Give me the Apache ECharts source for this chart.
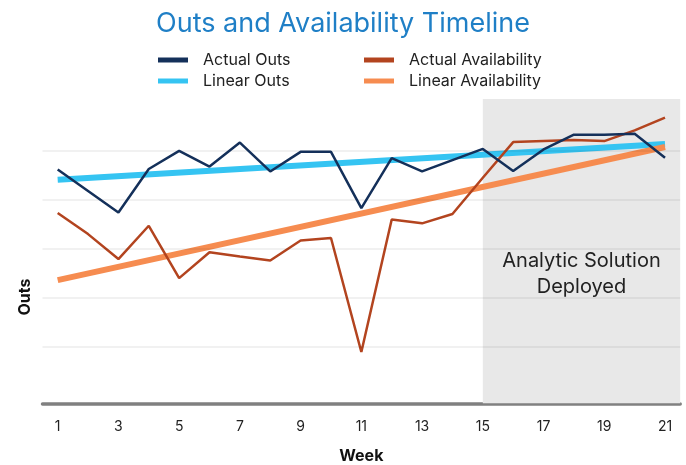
<!DOCTYPE html>
<html><head><meta charset="utf-8">
<script src="https://cdn.jsdelivr.net/npm/echarts@6/dist/echarts.min.js"></script>
<style>html,body{margin:0;padding:0;background:#fff}#c{width:686px;height:465px}</style>
</head><body><div id="c"></div>
<script>
const weeks = [1,2,3,4,5,6,7,8,9,10,11,12,13,14,15,16,17,18,19,20,21];
const actualOuts = [46.2,41.8,37.4,46.3,50.0,46.8,51.7,45.8,49.8,49.8,38.3,48.5,45.8,48.1,50.4,45.9,50.3,53.3,53.3,53.5,48.6];
const actualAvailability = [37.3,33.0,27.9,34.7,24.0,29.3,28.4,27.6,31.7,32.2,8.9,36.0,35.2,37.1,44.5,51.8,52.0,52.2,52.0,54.2,56.8];
const linearWeeks = [1,21];
const linearOuts = [44.1,51.4];
const linearAvailability = [23.6,50.8];
const xTickLabels = [1,3,5,7,9,11,13,15,17,19,21];
const gridValues = [10,20,30,40,50];
const deployStartWeek = 15;
const yMin = -1.57, yMax = 60.6;

const F = 'Inter, "Noto Sans", sans-serif';
const pairs = (xs, ys) => xs.map((x,i)=>[x, ys[i]]);
const chart = echarts.init(document.getElementById('c'), null, {renderer:'canvas'});
chart.setOption({
  animation:false,
  title:{text:'Outs and Availability Timeline', left:'center', top:5,
    textStyle:{color:'#1f7fc6', fontSize:27, fontWeight:'normal', fontFamily:F}},
  legend:[
    {left:153, top:47, orient:'vertical', icon:'rect', itemWidth:30, itemHeight:5, itemGap:5,
     data:['Actual Outs','Linear Outs'],
     textStyle:{fontSize:16, color:'#222', fontFamily:F, padding:[0,0,0,10]}},
    {left:359, top:47, orient:'vertical', icon:'rect', itemWidth:30, itemHeight:5, itemGap:5,
     data:['Actual Availability','Linear Availability'],
     textStyle:{fontSize:16, color:'#222', fontFamily:F, padding:[0,0,0,10]}}
  ],
  grid:{left:42.5, right:5.8, top:99, bottom:61.7, outerBoundsMode:'none', containLabel:false},
  xAxis:{type:'value', min:0.5, max:21.5,
    axisLine:{show:true, onZero:false, lineStyle:{color:'#808080', width:3.5}},
    axisTick:{show:false}, splitLine:{show:false},
    axisLabel:{customValues:xTickLabels, fontSize:14, color:'#222', margin:16, fontFamily:F},
    name:'Week', nameLocation:'middle', nameGap:45,
    nameTextStyle:{fontSize:16, fontWeight:'bold', color:'#111', fontFamily:F}},
  yAxis:{type:'value', min:yMin, max:yMax,
    axisLine:{show:false}, axisTick:{show:false}, axisLabel:{show:false}, splitLine:{show:false}},
  graphic:[
    {type:'text', x:581.5, y:274, z:10,
     style:{text:'Analytic Solution\nDeployed', fill:'#222', font:'20px ' + F,
       textAlign:'center', textVerticalAlign:'middle', lineHeight:26}},
    {type:'text', x:25, y:297, rotation:Math.PI/2, z:10,
     style:{text:'Outs', fill:'#111', font:'bold 16px ' + F,
       textAlign:'center', textVerticalAlign:'middle'}}
  ],
  series:[
    {name:'bg', type:'line', data:[], z:1, silent:true,
     markArea:{silent:true, itemStyle:{color:'#e8e8e8'},
       data:[[{xAxis:deployStartWeek},{xAxis:'max'}]]}},
    {name:'grid', type:'line', data:[], z:2, silent:true,
     markLine:{silent:true, symbol:'none', label:{show:false},
       lineStyle:{color:'rgba(0,0,0,0.075)', width:1.5, type:'solid'},
       data:gridValues.map(v=>({yAxis:v}))}},
    {name:'Linear Outs', type:'line', z:3, color:'#35c4f2', symbol:'none',
     lineStyle:{width:6, color:'#35c4f2'}, data:pairs(linearWeeks, linearOuts)},
    {name:'Linear Availability', type:'line', z:3, color:'#f68c50', symbol:'none',
     lineStyle:{width:6, color:'#f68c50'}, data:pairs(linearWeeks, linearAvailability)},
    {name:'Actual Availability', type:'line', z:4, color:'#b3441f', symbol:'none',
     lineStyle:{width:2.5, color:'#b3441f'}, data:pairs(weeks, actualAvailability)},
    {name:'Actual Outs', type:'line', z:5, color:'#14305a', symbol:'none',
     lineStyle:{width:2.5, color:'#14305a'}, data:pairs(weeks, actualOuts)}
  ]
});
</script></body></html>
